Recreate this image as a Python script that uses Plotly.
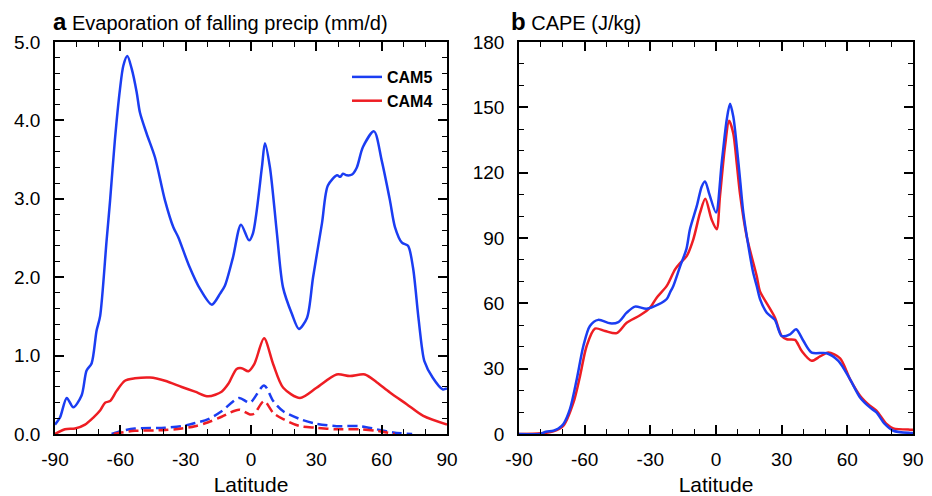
import plotly.graph_objects as go
from plotly.subplots import make_subplots

# ---- Panel a: Evaporation of falling precip (mm/d) ----
evap_cam5_lat = [-90, -87.7, -84.6, -81.6, -77.8, -75.5, -73.2, -70.9, -69.3, -66.3, -64.7, -62.5, -60.2,
                 -58.6, -56.8, -54.8, -52.5, -51, -47.9, -44.1, -39.5, -35.7, -33.4, -28.5, -23.4, -18, -14.2,
                 -12, -8.3, -4.6, -0.9, 0.9, 5, 6.4, 8.7, 11.9, 14.7, 18.8, 22, 25.7, 28.5, 32.6, 35.3,
                 39.5, 41, 42.2, 44, 46.4, 48.6, 51.4, 56.5, 60, 63.8, 66.1, 69.3, 72.1, 74.4, 76.7,
                 78.5, 79.6, 83.4, 88, 90]
evap_cam5 = [0.12, 0.21, 0.46, 0.34, 0.49, 0.81, 0.90, 1.32, 1.50, 2.47, 2.98, 3.75, 4.39,
             4.70, 4.82, 4.66, 4.36, 4.10, 3.83, 3.53, 2.98, 2.64, 2.51, 2.15, 1.85, 1.65, 1.79,
             1.89, 2.25, 2.67, 2.47, 2.56, 3.40, 3.71, 3.40, 2.56, 1.87, 1.53, 1.34, 1.48, 2.00, 2.69, 3.17,
             3.30, 3.28, 3.32, 3.30, 3.31, 3.40, 3.66, 3.86, 3.49, 2.98, 2.64, 2.44, 2.40, 2.12, 1.53,
             1.10, 0.93, 0.72, 0.57, 0.58]

evap_cam4_lat = [-90, -85.4, -80.8, -76.2, -72.4, -69.3, -67, -64.7, -61.7, -57.9, -53.3, -46.4, -39.5,
                 -31.8, -25.7, -19.6, -13.5, -10.4, -6.6, -4.3, -1.2, 1.5, 6, 10.2, 14.8, 22.5, 30.1,
                 39.3, 45.4, 52.3, 57.7, 63.8, 71.5, 79.1, 90]
evap_cam4 = [0.0, 0.06, 0.07, 0.12, 0.21, 0.30, 0.40, 0.42, 0.55, 0.68, 0.71, 0.72, 0.68,
             0.60, 0.54, 0.48, 0.54, 0.64, 0.83, 0.84, 0.80, 0.89, 1.22, 0.89, 0.59, 0.46, 0.59,
             0.76, 0.74, 0.76, 0.66, 0.53, 0.38, 0.23, 0.12]

evap_cam5_dash_lat = [-64, -59.4, -53.3, -39.5, -31.8, -25.7, -19.6, -13.5, -5.5, -0.5, 6, 10.2,
                      14.8, 22.5, 30.1, 39.3, 50, 57.7, 65.3, 74]
evap_cam5_dash = [0.0, 0.04, 0.07, 0.08, 0.10, 0.14, 0.19, 0.29, 0.46, 0.40, 0.62, 0.42,
                  0.29, 0.19, 0.13, 0.10, 0.10, 0.06, 0.02, 0.0]

evap_cam4_dash_lat = [-63, -59.4, -53.3, -39.5, -31.8, -25.7, -19.6, -13.5, -5.5, -0.5, 1.5, 6,
                      10.2, 14.8, 22.5, 30.1, 39.3, 50, 57.7, 66]
evap_cam4_dash = [0.0, 0.02, 0.04, 0.05, 0.07, 0.10, 0.15, 0.22, 0.31, 0.25, 0.26, 0.42,
                  0.27, 0.19, 0.10, 0.08, 0.06, 0.06, 0.04, 0.0]

# ---- Panel b: CAPE (J/kg) ----
cape_cam5_lat = [-90, -80.4, -77.7, -74.3, -72, -69.7, -66.7, -63.6, -60.6, -57.6, -53.8, -48.4, -44.6,
                 -40.8, -37, -31.7, -26.3, -22.5, -21, -19.5, -16.4, -13.5, -11.9, -8.8, -6.5, -5, -3,
                 0, 2.6, 4.9, 6.4, 7.9, 9.5, 11, 12.5, 14.8, 17, 18.6, 20.1, 23.2, 26.9, 30, 33.8,
                 36.6, 39.9, 43.7, 50.6, 55.9, 61.2, 65.8, 70.3, 73.3, 77.1, 81, 88.6, 90]
cape_cam5 = [0, 0, 1, 1.5, 2.5, 4.6, 11.5, 25.2, 40.4, 49.6, 52.4, 50.8, 51.4,
             55.7, 58.5, 57.5, 59.5, 62, 65, 68, 77, 85, 94, 104.6, 113.7, 116, 110,
             101.7, 124.4, 144.3, 151.6, 145.8, 132, 116.8, 101.5, 86.3, 74, 68, 62, 55.7, 52.4, 45, 45.8,
             48.1, 42.8, 37.4, 37.1, 33.6, 25.2, 16.8, 12.2, 9.9, 4.6, 1.5, 0.5, 0.5]

cape_cam4_lat = [-90, -80, -74.3, -69.7, -65.1, -62.1, -59.1, -55.3, -50.7, -45.4, -40.8, -34.7, -30.1,
                 -27.1, -22.5, -18.7, -16.4, -13.4, -10.4, -7.3, -4.9, -2, 0.3, 1.8, 4.1, 6, 7.9, 9.5,
                 11, 14, 18.6, 20.1, 23.2, 26.9, 30, 32.3, 36.1, 39.1, 43.7, 47.5, 51.3, 56.7, 61.2,
                 65.8, 70.3, 73.3, 77.9, 81, 88.6, 90]
cape_cam4 = [0, 0.3, 1.2, 3.8, 14.5, 26.7, 40.4, 48.4, 47.3, 46.3, 51.1, 54.5, 58,
             62.6, 68, 75.6, 78.5, 81.7, 89.3, 101.5, 108, 98.5, 94, 109, 132, 143.8, 138, 124,
             110, 90.8, 72.5, 65.5, 60, 53.5, 45, 43.5, 43.2, 38.2, 33.6, 35.6, 37.4, 34.7, 25.2,
             17.6, 13, 10.7, 4.6, 2.6, 2, 2]

x_ticks = [-90, -60, -30, 0, 30, 60, 90]
x_tick_text = ["-90", "-60", "-30", "0", "30", "60", "90"]
evap_ticks = [0, 1, 2, 3, 4, 5]
evap_tick_text = ["0.0", "1.0", "2.0", "3.0", "4.0", "5.0"]
cape_ticks = [0, 30, 60, 90, 120, 150, 180]

BLUE = "#1b3df2"
RED = "#ee1d23"
FONT = "Liberation Sans, Arial, sans-serif"

fig = make_subplots(rows=1, cols=2)

def add(x, y, color, name, col, dash="solid", legend=False):
    fig.add_trace(go.Scatter(x=x, y=y, mode="lines", name=name, showlegend=legend,
                             line=dict(color=color, width=2.5, dash=dash, shape="spline", smoothing=0.8)),
                  row=1, col=col)

add(evap_cam5_lat, evap_cam5, BLUE, "CAM5", 1, legend=True)
add(evap_cam4_lat, evap_cam4, RED, "CAM4", 1, legend=True)
add(evap_cam5_dash_lat, evap_cam5_dash, BLUE, "CAM5 dash", 1, dash="10px,5px")
add(evap_cam4_dash_lat, evap_cam4_dash, RED, "CAM4 dash", 1, dash="10px,5px")
add(cape_cam4_lat, cape_cam4, RED, "CAM4", 2)
add(cape_cam5_lat, cape_cam5, BLUE, "CAM5", 2)

W, H = 932, 496
ybot, ytop = 434, 42
common_x = dict(range=[-90, 90], tickvals=x_ticks, ticktext=x_tick_text, ticks="inside", ticklen=9,
                tickwidth=1.5, tickcolor="black", showline=True, linecolor="black", linewidth=1.5,
                mirror="ticks", showgrid=False, zeroline=False, automargin=False,
                minor=dict(dtick=10, tick0=0, ticks="inside", ticklen=5, tickwidth=1.2, tickcolor="black"),
                tickfont=dict(family=FONT, size=19, color="black"), ticklabelstandoff=7,
                title=dict(text="Latitude", font=dict(family=FONT, size=21, color="black"), standoff=10))
fig.update_xaxes(**common_x)
fig.update_xaxes(domain=[55 / W, 447 / W], row=1, col=1)
fig.update_xaxes(domain=[519 / W, 913 / W], row=1, col=2)

common_y = dict(ticks="inside", ticklen=9, tickwidth=1.5, tickcolor="black", showline=True,
                linecolor="black", linewidth=1.5, mirror="ticks", showgrid=False, zeroline=False,
                automargin=False,
                tickfont=dict(family=FONT, size=19, color="black"), ticklabelstandoff=9,
                domain=[1 - ybot / H, 1 - ytop / H])
fig.update_yaxes(**common_y)
fig.update_yaxes(range=[0, 5], tickvals=evap_ticks, ticktext=evap_tick_text,
                 minor=dict(dtick=0.2, tick0=0, ticks="inside", ticklen=5, tickwidth=1.2, tickcolor="black"),
                 row=1, col=1)
fig.update_yaxes(range=[0, 180], tickvals=cape_ticks,
                 minor=dict(dtick=10, tick0=0, ticks="inside", ticklen=5, tickwidth=1.2, tickcolor="black"),
                 row=1, col=2)

fig.add_annotation(text="<b><span style='font-size:24px'>a</span></b> Evaporation of falling precip (mm/d)",
                   xref="paper", yref="paper",
                   x=51 / W, y=1 - 21 / H, xanchor="left", yanchor="middle", showarrow=False,
                   font=dict(family=FONT, size=20, color="black"))
fig.add_annotation(text="<b><span style='font-size:24px'>b</span></b> CAPE (J/kg)", xref="paper", yref="paper",
                   x=509 / W, y=1 - 21 / H, xanchor="left", yanchor="middle", showarrow=False,
                   font=dict(family=FONT, size=20, color="black"))

fig.update_layout(width=W, height=H, margin=dict(l=0, r=0, t=0, b=0),
                  paper_bgcolor="white", plot_bgcolor="white",
                  legend=dict(x=347 / W, y=1 - 60 / H, xanchor="left", yanchor="top",
                              bgcolor="rgba(0,0,0,0)", itemwidth=30, tracegroupgap=0,
                              font=dict(family=FONT, size=16, color="black", weight="bold")))

fig.write_html("out.html")
